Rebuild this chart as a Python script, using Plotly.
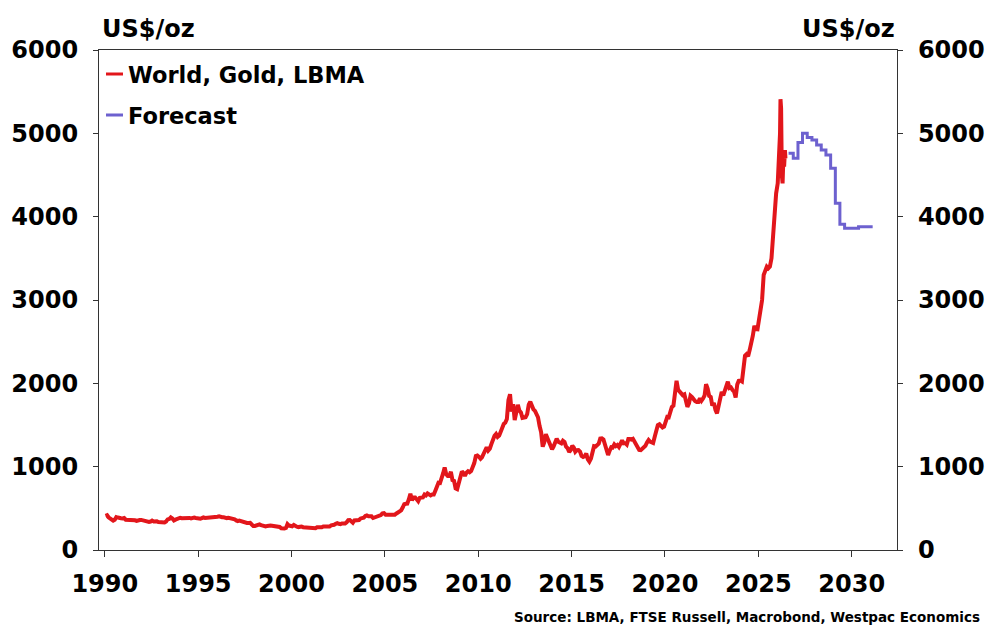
import pandas as pd
import plotly.graph_objects as go

# LBMA gold price, monthly (US$/oz), Jan of first year onward
gold_1990s = [
    410, 417, 393, 374, 369, 352, 362, 395, 389, 381, 381, 378,
    383, 363, 363, 358, 357, 367, 368, 356, 349, 359, 360, 361,
    354, 354, 345, 338, 337, 341, 353, 343, 345, 344, 335, 334,
    329, 329, 330, 342, 367, 372, 392, 378, 355, 364, 373, 383,
    387, 382, 384, 377, 381, 385, 385, 380, 391, 389, 384, 379,
    379, 376, 382, 391, 385, 387, 386, 383, 383, 383, 386, 387,
    400, 405, 396, 393, 392, 385, 383, 387, 383, 381, 378, 369,
    355, 346, 352, 344, 344, 341, 324, 324, 323, 325, 306, 289,
    289, 297, 296, 308, 299, 292, 293, 284, 289, 296, 294, 291,
    287, 287, 286, 282, 277, 261, 256, 257, 265, 311, 293, 283,
]
gold_2000s = [
    285, 300, 286, 280, 275, 285, 282, 274, 273, 270, 266, 272,
    266, 262, 263, 261, 272, 270, 268, 273, 283, 283, 276, 275,
    282, 296, 294, 303, 314, 322, 314, 310, 319, 317, 319, 333,
    357, 359, 340, 328, 355, 356, 351, 360, 379, 379, 389, 407,
    414, 405, 407, 404, 384, 392, 398, 400, 406, 420, 439, 442,
    424, 423, 434, 429, 422, 431, 424, 438, 456, 470, 476, 510,
    549, 555, 557, 610, 676, 596, 633, 632, 598, 585, 627, 629,
    631, 665, 655, 679, 667, 655, 665, 665, 712, 754, 806, 803,
    889, 922, 990, 909, 888, 889, 939, 839, 829, 740, 730, 816,
    858, 943, 924, 890, 928, 946, 934, 949, 996, 1043, 1127, 1134,
]
gold_2010s = [
    1118, 1095, 1113, 1148, 1205, 1233, 1193, 1215, 1271, 1343, 1370, 1391,
    1356, 1372, 1424, 1474, 1512, 1529, 1572, 1800, 1870, 1660, 1750, 1560,
    1656, 1742, 1673, 1650, 1585, 1596, 1594, 1630, 1744, 1780, 1721, 1688,
    1670, 1627, 1593, 1487, 1414, 1240, 1290, 1390, 1349, 1316, 1275, 1210,
    1244, 1301, 1336, 1299, 1288, 1279, 1311, 1296, 1239, 1222, 1176, 1200,
    1251, 1227, 1179, 1198, 1199, 1181, 1129, 1117, 1125, 1157, 1086, 1060,
    1097, 1200, 1246, 1242, 1260, 1276, 1337, 1340, 1326, 1266, 1238, 1140,
    1192, 1234, 1231, 1266, 1246, 1260, 1236, 1283, 1315, 1280, 1283, 1265,
    1331, 1331, 1325, 1334, 1303, 1282, 1238, 1201, 1198, 1215, 1221, 1250,
    1291, 1320, 1301, 1286, 1284, 1359, 1413, 1500, 1510, 1495, 1470, 1480,
]
gold_2020s = [
    1560, 1597, 1592, 1683, 1716, 1732, 1847, 2030, 1922, 1900, 1866, 1858,
    1867, 1808, 1718, 1760, 1850, 1834, 1807, 1785, 1775, 1776, 1821, 1790,
    1817, 1856, 1990, 1937, 1849, 1837, 1733, 1765, 1681, 1640, 1726, 1797,
    1898, 1855, 1913, 1999, 2020, 1943, 1951, 1919, 1900, 1830, 1985, 2030,
    2034, 2023, 2159, 2331, 2350, 2326, 2399, 2470, 2571, 2690, 2650, 2648,
    2750, 2900, 3000, 3300, 3350, 3400, 3380, 3400, 3500, 3800, 4000, 4280,
]

# Latest observations
recent_dates = ["2026-01-15", "2026-02-05", "2026-03-01", "2026-03-10", "2026-03-22",
                "2026-04-05", "2026-04-20", "2026-05-05", "2026-05-20", "2026-06-05",
                "2026-06-15"]
recent_price = [4400, 4600, 5000, 5410, 5300, 4500, 4400, 4700, 4600, 4800, 4700]

# Quarterly forecast path
forecast_dates = ["2026-08-15", "2026-11-15", "2027-02-15", "2027-05-15", "2027-08-15",
                  "2027-11-15", "2028-02-15", "2028-05-15", "2028-08-15", "2028-11-15",
                  "2029-02-15", "2029-05-15", "2029-08-15", "2029-11-15", "2030-02-15",
                  "2030-05-15", "2030-08-15", "2030-11-15", "2031-02-15"]
forecast_price = [4760, 4700, 4890, 5000, 4950, 4920, 4860, 4800, 4740, 4580,
                  4160, 3910, 3860, 3860, 3860, 3880, 3880, 3880, 3880]

year_ticks = list(range(1990, 2031, 5))

monthly = gold_1990s + gold_2000s + gold_2010s + gold_2020s
monthly_dates = pd.date_range("1990-01-01", periods=len(monthly), freq="MS") + pd.Timedelta(days=14)
gold_x = list(monthly_dates.strftime("%Y-%m-%d")) + recent_dates
gold_y = monthly + recent_price

RED = "#e2161b"
PURPLE = "#6d61cf"
AXIS = "#333333"
FONT = "DejaVu Sans"

fig = go.Figure()
fig.add_trace(go.Scatter(x=gold_x, y=gold_y, mode="lines", name="World, Gold, LBMA",
                         line=dict(color=RED, width=4), showlegend=False))
fig.add_trace(go.Scatter(x=forecast_dates, y=forecast_price, mode="lines", name="Forecast",
                         line=dict(color=PURPLE, width=3, shape="hv"), yaxis="y2",
                         showlegend=False))

tickfont = dict(family=FONT, size=24, color="#000000", weight="bold")
yaxis_common = dict(range=[0, 6000], dtick=1000, tick0=0, showgrid=False, zeroline=False,
                    showline=True, linecolor=AXIS, linewidth=1.2, ticks="outside",
                    ticklen=5, tickcolor=AXIS, tickfont=tickfont, ticklabelstandoff=10,
                    automargin=False)

fig.update_layout(
    width=987, height=625,
    margin=dict(l=99, r=90, t=50, b=75),
    paper_bgcolor="white", plot_bgcolor="white",
    font=dict(family=FONT, color="#000000"),
    xaxis=dict(type="date", range=["1989-09-10", "2032-06-05"],
               tickvals=[f"{y}-01-01" for y in year_ticks],
               ticktext=[str(y) for y in year_ticks],
               showgrid=False, zeroline=False, showline=True, mirror=True,
               linecolor=AXIS, linewidth=1.2, ticks="outside", ticklen=6,
               tickcolor=AXIS, tickfont=tickfont, ticklabelstandoff=6,
               automargin=False),
    yaxis=dict(**yaxis_common),
    yaxis2=dict(**yaxis_common, overlaying="y", side="right"),
)

def px_x(p):
    return (p - 99) / 798

def px_y(p):
    return (550 - p) / 500

# axis unit labels
fig.add_annotation(x=px_x(100), y=px_y(29), xref="paper", yref="paper", text="US$/oz",
                   showarrow=False, xanchor="left", yanchor="middle",
                   font=dict(family=FONT, size=24, weight="bold"))
fig.add_annotation(x=px_x(897), y=px_y(29), xref="paper", yref="paper", text="US$/oz",
                   showarrow=False, xanchor="right", yanchor="middle",
                   font=dict(family=FONT, size=24, weight="bold"))

# legend
for label, color, yc in [("World, Gold, LBMA", RED, 74), ("Forecast", PURPLE, 115)]:
    fig.add_shape(type="line", xref="paper", yref="paper",
                  x0=px_x(106), x1=px_x(123), y0=px_y(yc), y1=px_y(yc),
                  line=dict(color=color, width=3))
    fig.add_annotation(x=px_x(126), y=px_y(yc + 1), xref="paper", yref="paper", text=label,
                       showarrow=False, xanchor="left", yanchor="middle",
                       font=dict(family=FONT, size=22.5, weight="bold"))

# source line
fig.add_annotation(x=px_x(982), y=px_y(617), xref="paper", yref="paper",
                   text="Source: LBMA, FTSE Russell, Macrobond, Westpac Economics",
                   showarrow=False, xanchor="right", yanchor="middle",
                   font=dict(family=FONT, size=13.5, weight="bold"))

fig.write_html("out.html")
